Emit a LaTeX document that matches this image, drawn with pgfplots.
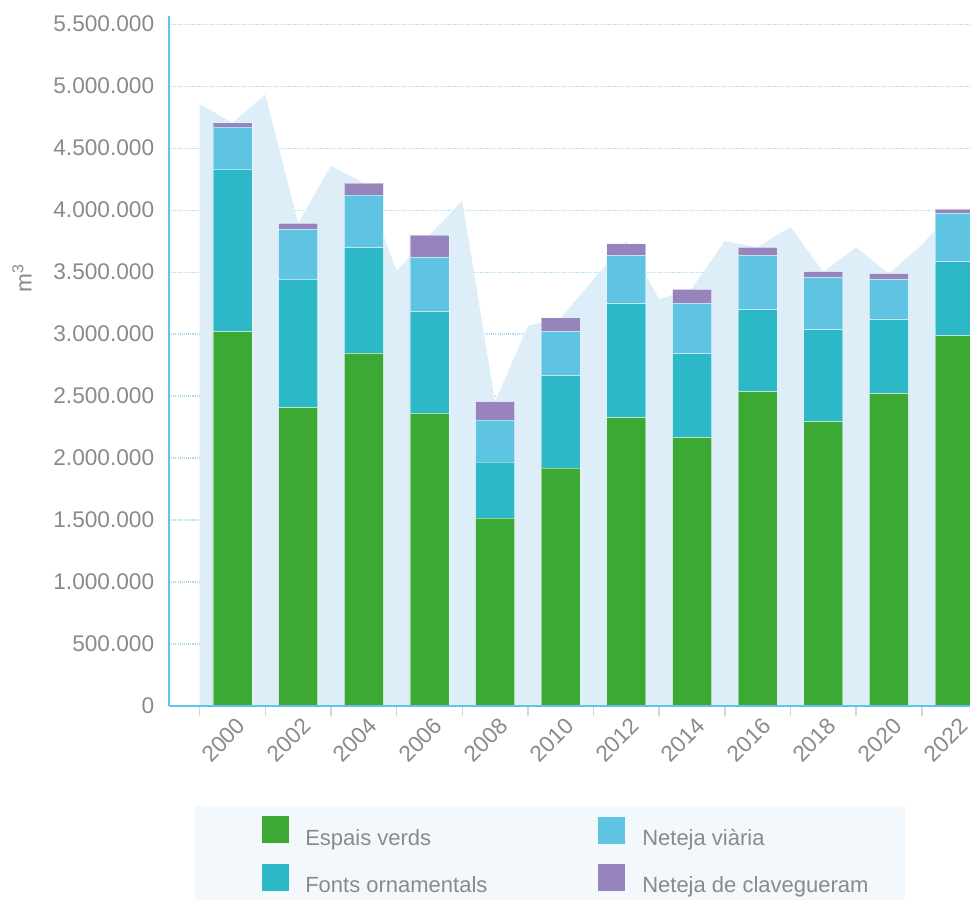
\documentclass[border=0pt]{standalone}
\usepackage{fontspec}
\setmainfont{Liberation Sans}
\usepackage{pgfplots}
\usepackage{pgfplotstable}
\pgfplotsset{compat=1.18}

\definecolor{verd}{HTML}{3CA935}
\definecolor{fonts}{HTML}{2CB8C6}
\definecolor{viaria}{HTML}{5FC4E2}
\definecolor{clav}{HTML}{9784BD}
\definecolor{fonsc}{HTML}{DDEEF9}
\definecolor{llegc}{HTML}{F2F8FB}
\definecolor{eixc}{HTML}{62C4EE}
\definecolor{gridc}{HTML}{A6DCF2}
\definecolor{tickc}{HTML}{C9D9E1}
\definecolor{textc}{HTML}{8A8A8A}

% m3 per any (barres cada dos anys)
\pgfplotstableread{
i verds   fonts   viaria clav
0  3019000 1309000 341000 35000
1  2406000 1035000 403000 49000
2  2844000  852000 425000 97000
3  2360000  820000 439000 179000
4  1515000  453000 338000 148000
5  1919000  745000 358000 109000
6  2325000  919000 390000 94000
7  2164000  677000 406000 113000
8  2535000  661000 438000 65000
9  2293000  742000 422000 46000
10 2519000  596000 326000 46000
11 2986000  597000 390000 35000
}\barres

% area de fons
\pgfplotstableread{
x    total
-0.5 4855000
0    4704000
0.5  4933000
1    3893000
1.5  4357000
2    4218000
2.5  3508000
3    3798000
3.5  4073000
4    2454000
4.5  3065000
5    3131000
5.5  3440000
6    3750000
6.5  3280000
7    3370000
7.5  3750000
8    3700000
8.5  3865000
9    3500000
9.5  3700000
10   3487000
10.5 3720000
11   4008000
11.5 4000000
}\fons

\begin{document}
\begin{tikzpicture}
\pgfplotsset{marc/.style={
  scale only axis, width=600.75pt, height=517.5pt,
  xmin=-0.967, xmax=11.234, ymin=0, ymax=5565000,
}}

% grid + area
\begin{axis}[marc,
  axis line style={draw=none},
  xtick=\empty,
  ytick={0,500000,1000000,1500000,2000000,2500000,3000000,3500000,4000000,4500000,5000000,5500000},
  ymajorgrids,
  major grid style={draw=gridc, line width=0.8pt, dash pattern=on 0.8pt off 0.8pt},
  major tick length=0pt,
  scaled y ticks=false,
  yticklabel style={font=\fontsize{17}{20}\selectfont, color=textc, anchor=east, inner sep=0pt, xshift=-10.9pt,
    /pgf/number format/fixed, /pgf/number format/precision=0,
    /pgf/number format/1000 sep={.}, /pgf/number format/assume math mode=true},
]
\addplot[fill=fonsc, draw=none] table[x=x, y=total] {\fons} \closedcycle;
\end{axis}

% barres apilades
\begin{axis}[marc,
  ybar stacked, bar width=29.25pt,
  axis x line*=bottom, axis y line*=left,
  axis line style={draw=eixc, line width=1.9pt},
  ytick=\empty,
  xtick={0,1,2,3,4,5,6,7,8,9,10,11},
  xticklabels={2000,2002,2004,2006,2008,2010,2012,2014,2016,2018,2020,2022},
  minor xtick={-0.5,0.5,1.5,2.5,3.5,4.5,5.5,6.5,7.5,8.5,9.5,10.5},
  major tick length=0pt, minor tick length=7.5pt, tick align=outside,
  minor tick style={draw=tickc, line width=1.1pt},
  xticklabel style={font=\fontsize{17}{20}\selectfont, color=textc, inner sep=0pt,
    xshift=6.75pt, yshift=-12pt, rotate=45, anchor=east},
  axis on top,
]
\addplot[fill=verd, draw=white, draw opacity=0.45, line width=0.6pt] table[x=i, y=verds] {\barres};
\addplot[fill=fonts, draw=white, draw opacity=0.45, line width=0.6pt] table[x=i, y=fonts] {\barres};
\addplot[fill=viaria, draw=white, draw opacity=0.45, line width=0.6pt] table[x=i, y=viaria] {\barres};
\addplot[fill=clav, draw=white, draw opacity=0.45, line width=0.6pt] table[x=i, y=clav] {\barres};
\end{axis}

% etiqueta eix y
\node[rotate=90, color=textc, font=\fontsize{17}{20}\selectfont] at (-110.25pt,321pt) {m\textsuperscript{3}};

% llegenda
\fill[llegc] (19.5pt,-75pt) rectangle (552pt,-145.5pt);
\fill[verd] (69.75pt,-82.5pt) rectangle (90pt,-102.75pt);
\fill[viaria] (321.75pt,-83.25pt) rectangle (342pt,-103.5pt);
\fill[fonts] (69.75pt,-118.5pt) rectangle (90pt,-138.75pt);
\fill[clav] (321.75pt,-118.5pt) rectangle (342pt,-138.75pt);
\begin{scope}[every node/.style={anchor=base west, inner sep=0pt, color=textc, font=\fontsize{16.5}{19}\selectfont}]
\node at (102pt,-104.25pt) {Espais verds};
\node at (354.75pt,-104.25pt) {Neteja viària};
\node at (102pt,-139.5pt) {Fonts ornamentals};
\node at (354.75pt,-139.5pt) {Neteja de clavegueram};
\end{scope}

\pgfresetboundingbox
\path (-126.75pt,-145.5pt) rectangle (600.75pt,529.5pt);
\end{tikzpicture}
\end{document}
